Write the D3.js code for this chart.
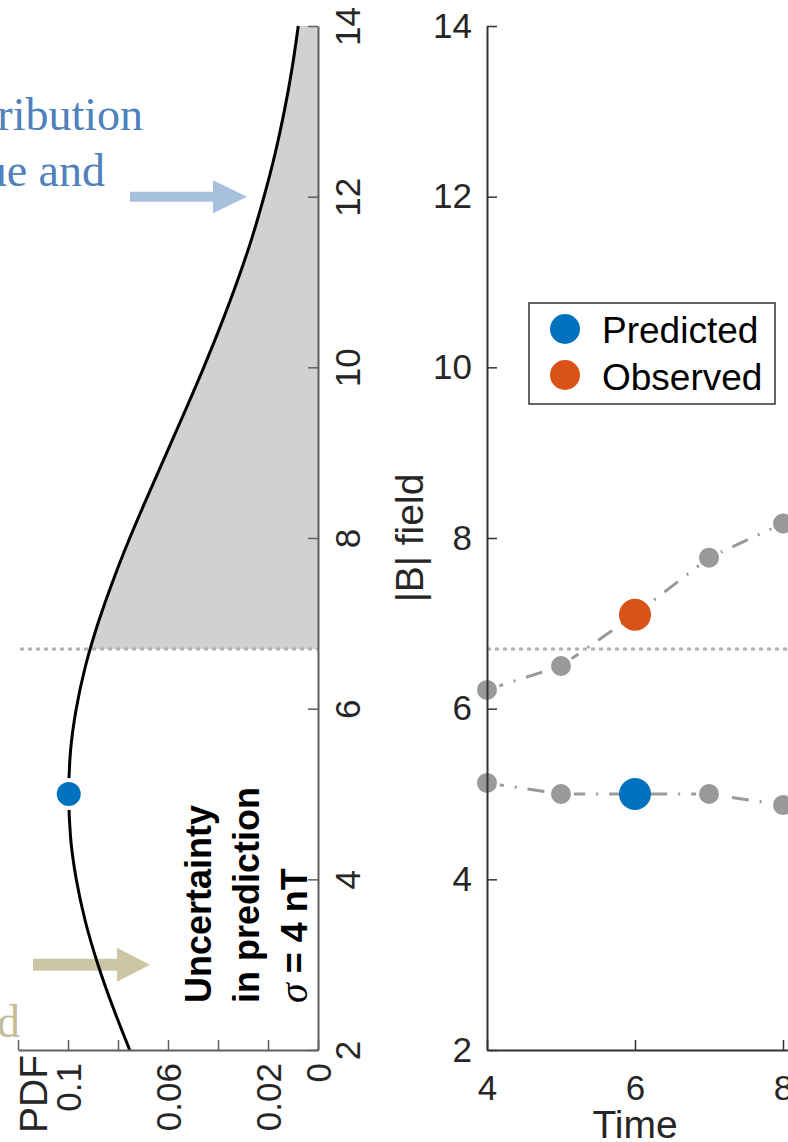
<!DOCTYPE html>
<html>
<head>
<meta charset="utf-8">
<script src="https://cdn.jsdelivr.net/npm/d3@7"></script>
<style>
body { margin: 0; background: #fff; }
svg { display: block; font-family: "Liberation Sans", Arial, Helvetica, sans-serif; }
</style>
</head>
<body>
<div id="chart-area"></div>
<script>
var width = 788;
var height = 1142;

// left panel: PDF of the predicted |B| (every 0.5)
var fieldValues = [2, 2.5, 3, 3.5, 4, 4.5, 5, 5.5, 6, 6.5, 7, 7.5, 8, 8.5, 9, 9.5, 10, 10.5, 11, 11.5, 12, 12.5, 13, 13.5, 14];
var pdfValues = [0.0753, 0.0820, 0.0880, 0.0930, 0.0967, 0.0990, 0.0997, 0.0990, 0.0967, 0.0930, 0.0880, 0.0820, 0.0753,
                 0.0680, 0.0605, 0.0530, 0.0457, 0.0388, 0.0324, 0.0266, 0.0216, 0.0172, 0.0135, 0.0104, 0.0079];
var predictedMean = 5;
var predictedPeak = 0.0997;
var threshold = 6.7;
var pdfTicks = [0, 0.02, 0.04, 0.06, 0.08, 0.1, 0.12];
var pdfTickLabels = ["0", "0.02", "", "0.06", "", "0.1", ""];
var fieldTicks = [2, 4, 6, 8, 10, 12, 14];

// right panel: time series
var times = [4, 5, 6, 7, 8];
var observed = [6.22, 6.5, 7.1, 7.77, 8.17];
var predicted = [5.13, 5.0, 5.0, 5.0, 4.87];
var highlightTime = 6;
var timeTicks = [4, 6, 8, 10];
var legendNames = ["Predicted", "Observed"];
var legendColors = ["#0072BD", "#D95319"];

var svg = d3.select("#chart-area").append("svg")
    .attr("width", width)
    .attr("height", height);

var yB = d3.scaleLinear().domain([2, 14]).range([1050, 26]);
var xPdf = d3.scaleLinear().domain([0, 0.12]).range([318, 18]);
var xTime = d3.scaleLinear().domain([4, 10]).range([487, 931]);

// annotation text cut at the left edge (as in the source figure)
var blue = "#4f81bd", tan = "#c4bd97";
svg.append("text").attr("x", 143).attr("y", 130).attr("text-anchor", "end")
    .attr("font-family", "Liberation Serif, Times New Roman, serif").attr("font-size", 46)
    .attr("fill", blue).text("ribution");
svg.append("text").attr("x", 105).attr("y", 186).attr("text-anchor", "end")
    .attr("font-family", "Liberation Serif, Times New Roman, serif").attr("font-size", 46)
    .attr("fill", blue).text("ue and");
svg.append("text").attr("x", 20).attr("y", 1037).attr("text-anchor", "end")
    .attr("font-family", "Liberation Serif, Times New Roman, serif").attr("font-size", 46)
    .attr("fill", tan).text("d");

function arrow(x0, x1, y, shaft, head, headLen, color) {
    var xh = x1 - headLen;
    svg.append("path")
        .attr("d", "M" + x0 + "," + (y - shaft / 2) + "H" + xh + "V" + (y - head / 2) +
              "L" + x1 + "," + y + "L" + xh + "," + (y + head / 2) + "V" + (y + shaft / 2) + "H" + x0 + "Z")
        .attr("fill", color);
}
arrow(130, 247, yB(12), 10, 33, 34, "#a7c0de");
arrow(33, 150, yB(3), 12, 34, 33, "#cdc6a4");

// shaded tail above the threshold
var curveData = d3.zip(fieldValues, pdfValues);
svg.append("clipPath").attr("id", "tail")
  .append("rect")
    .attr("x", 0).attr("y", yB(14))
    .attr("width", xPdf(0)).attr("height", yB(threshold) - yB(14));

svg.append("path")
    .datum(curveData)
    .attr("clip-path", "url(#tail)")
    .attr("fill", "#d1d1d1")
    .attr("d", d3.area()
        .y((d) => { return yB(d[0]); })
        .x0(xPdf(0))
        .x1((d) => { return xPdf(d[1]); })
        .curve(d3.curveMonotoneY));

// threshold dotted lines
svg.append("line")
    .attr("x1", 20).attr("x2", xPdf(0))
    .attr("y1", yB(threshold)).attr("y2", yB(threshold))
    .attr("stroke", "#b0b0b0").attr("stroke-width", 3).attr("stroke-dasharray", "4,4");
svg.append("line")
    .attr("x1", xTime(4)).attr("x2", xTime(10))
    .attr("y1", yB(threshold)).attr("y2", yB(threshold))
    .attr("stroke", "#b0b0b0").attr("stroke-width", 3).attr("stroke-dasharray", "4,4");

// PDF curve
svg.append("path")
    .datum(curveData)
    .attr("fill", "none")
    .attr("stroke", "#000")
    .attr("stroke-width", 3)
    .attr("d", d3.line()
        .x((d) => { return xPdf(d[1]); })
        .y((d) => { return yB(d[0]); })
        .curve(d3.curveMonotoneY));

svg.append("circle")
    .attr("cx", xPdf(predictedPeak)).attr("cy", yB(predictedMean)).attr("r", 14)
    .attr("fill", "#0072BD").attr("stroke", "#fff").attr("stroke-width", 4);

// left axes
var leftAxisColor = "#5e5e5e";
var gLeftY = svg.append("g")
    .attr("transform", "translate(" + xPdf(0) + ",0)")
    .call(d3.axisRight(yB).tickValues(fieldTicks).tickSizeInner(-10).tickSizeOuter(0)
        .tickFormat(d3.format("d")));
var gLeftX = svg.append("g")
    .attr("transform", "translate(0," + yB(2) + ")")
    .call(d3.axisBottom(xPdf).tickValues(pdfTicks).tickSizeInner(-10).tickSizeOuter(0)
        .tickFormat((d, i) => { return pdfTickLabels[i]; }));

[gLeftY, gLeftX].forEach((g) => {
    g.attr("font-size", 35).attr("font-family", null);
    g.select(".domain").attr("stroke", leftAxisColor).attr("stroke-width", 2);
    g.selectAll(".tick line").attr("stroke", leftAxisColor).attr("stroke-width", 1.5);
    g.selectAll(".tick text").attr("fill", "#262626").attr("transform", "rotate(-90)").attr("dy", 0);
});
gLeftY.selectAll(".tick text").attr("x", 0).attr("y", 42).attr("text-anchor", "middle");
gLeftX.selectAll(".tick text").attr("x", -13).attr("y", 12).attr("text-anchor", "end");

svg.append("text")
    .attr("transform", "translate(47,1055) rotate(-90)")
    .attr("text-anchor", "end").attr("font-size", 39).attr("fill", "#262626")
    .text("PDF");

// bold note
var noteX = [211, 259, 307];
svg.append("text").attr("transform", "translate(" + noteX[0] + ",1003) rotate(-90)")
    .attr("font-size", 36).attr("font-weight", "bold").attr("fill", "#000").text("Uncertainty");
svg.append("text").attr("transform", "translate(" + noteX[1] + ",1003) rotate(-90)")
    .attr("font-size", 36).attr("font-weight", "bold").attr("fill", "#000").text("in prediction");
var sig = svg.append("text").attr("transform", "translate(" + noteX[2] + ",1003) rotate(-90)")
    .attr("font-size", 36).attr("font-weight", "bold").attr("fill", "#000");
sig.append("tspan").attr("font-family", "Liberation Serif, Times New Roman, serif")
    .attr("font-style", "italic").attr("font-weight", "normal").attr("font-size", 40).text("σ");
sig.append("tspan").text(" = 4 nT");

// right panel series
var seriesLine = d3.line()
    .x((d, i) => { return xTime(times[i]); })
    .y((d) => { return yB(d); });

[observed, predicted].forEach((s) => {
    svg.append("path")
        .datum(s)
        .attr("fill", "none")
        .attr("stroke", "#999")
        .attr("stroke-width", 3)
        .attr("stroke-dasharray", "17,11,2,11")
        .attr("d", seriesLine);

    svg.selectAll(null)
        .data(s)
        .enter()
        .append("circle")
            .attr("cx", (d, i) => { return xTime(times[i]); })
            .attr("cy", (d) => { return yB(d); })
            .attr("r", 11.5)
            .attr("fill", "#999")
            .attr("stroke", "#fff")
            .attr("stroke-width", 3);
});

var hi = times.indexOf(highlightTime);
svg.append("circle").attr("cx", xTime(highlightTime)).attr("cy", yB(observed[hi])).attr("r", 16)
    .attr("fill", legendColors[1]);
svg.append("circle").attr("cx", xTime(highlightTime)).attr("cy", yB(predicted[hi])).attr("r", 16)
    .attr("fill", legendColors[0]);

// right axes
var rightAxisColor = "#333";
var gRightY = svg.append("g")
    .attr("transform", "translate(" + xTime(4) + ",0)")
    .call(d3.axisLeft(yB).tickValues(fieldTicks).tickSizeInner(-10).tickSizeOuter(0).tickPadding(15)
        .tickFormat(d3.format("d")));
var gRightX = svg.append("g")
    .attr("transform", "translate(0," + yB(2) + ")")
    .call(d3.axisBottom(xTime).tickValues(timeTicks).tickSizeInner(-10).tickSizeOuter(0).tickPadding(25)
        .tickFormat(d3.format("d")));

[gRightY, gRightX].forEach((g) => {
    g.attr("font-size", 35).attr("font-family", null);
    g.select(".domain").attr("stroke", rightAxisColor).attr("stroke-width", 2);
    g.selectAll(".tick line").attr("stroke", rightAxisColor).attr("stroke-width", 1.5);
    g.selectAll(".tick text").attr("fill", "#262626");
});

svg.append("text")
    .attr("transform", "translate(423,538) rotate(-90)")
    .attr("text-anchor", "middle").attr("font-size", 39).attr("fill", "#262626")
    .text("|B| field");
svg.append("text")
    .attr("x", xTime(6)).attr("y", 1138)
    .attr("text-anchor", "middle").attr("font-size", 39).attr("fill", "#262626")
    .text("Time");

// legend
var legend = svg.append("g").attr("transform", "translate(529,303)");
legend.append("rect")
    .attr("width", 246).attr("height", 101)
    .attr("fill", "#fff").attr("stroke", "#333").attr("stroke-width", 1.5);
legendNames.forEach((name, i) => {
    legend.append("circle")
        .attr("cx", 36).attr("cy", 26 + i * 46).attr("r", 15)
        .attr("fill", legendColors[i]);
    legend.append("text")
        .attr("x", 73).attr("y", 40 + i * 47)
        .attr("font-size", 37).attr("fill", "#000")
        .text(name);
});
</script>
</body>
</html>
